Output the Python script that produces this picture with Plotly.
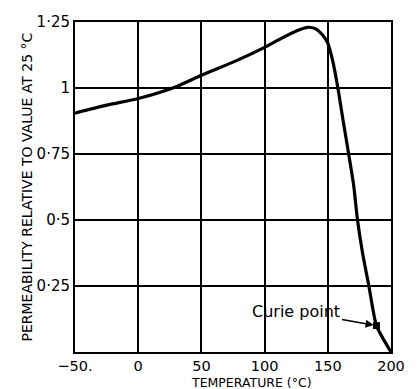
import plotly.graph_objects as go

temps = [-50, -25, 0, 30, 50, 76, 100, 114, 126, 134, 140, 146, 150, 154, 158, 162, 166.5, 170.5, 173.5, 177.5, 182.5, 188.5, 200]
perm = [0.905, 0.935, 0.96, 1.005, 1.048, 1.10, 1.154, 1.19, 1.218, 1.23, 1.225, 1.20, 1.17, 1.10, 1.0, 0.88, 0.75, 0.63, 0.5, 0.375, 0.25, 0.10, 0.0]

curie_t = [188.5]
curie_p = [0.10]

x_ticks = [-50, 0, 50, 100, 150, 200]
x_labels = ["\u221250.", "0", "50", "100", "150", "200"]
y_ticks = [0.25, 0.5, 0.75, 1, 1.25]
y_labels = ["0\u00b725", "0\u00b75", "0\u00b775", "1", "1\u00b725"]

FONT = "DejaVu Sans"

fig = go.Figure()
fig.add_trace(go.Scatter(x=temps, y=perm, mode="lines",
                         line=dict(color="black", width=3.2, shape="spline", smoothing=0.6),
                         hoverinfo="skip"))
fig.add_trace(go.Scatter(x=curie_t, y=curie_p, mode="markers",
                         marker=dict(color="black", size=7, symbol="square"),
                         hoverinfo="skip"))

fig.add_annotation(x=curie_t[0], y=curie_p[0], xref="x", yref="y",
                   text="Curie point", showarrow=True, ax=-80, ay=-14,
                   arrowhead=2, arrowsize=1, arrowwidth=1.6, arrowcolor="black",
                   standoff=3, font=dict(family=FONT, size=16, color="black"))

fig.add_annotation(x=-50 / 326, y=0.5, xref="paper", yref="paper",
                   text="PERMEABILITY RELATIVE TO VALUE AT 25 \u00b0C", textangle=-90,
                   showarrow=False, xanchor="center", yanchor="middle",
                   font=dict(family=FONT, size=14, color="black"))

fig.add_annotation(x=0.56, y=-30 / 330, xref="paper", yref="paper",
                   text="TEMPERATURE (\u00b0C)", showarrow=False,
                   xanchor="center", yanchor="middle",
                   font=dict(family=FONT, size=12.5, color="black"))

fig.update_layout(
    width=417, height=389,
    margin=dict(l=75, r=16, t=22, b=37),
    paper_bgcolor="white", plot_bgcolor="white",
    showlegend=False,
    xaxis=dict(range=[-50, 200], tickvals=x_ticks, ticktext=x_labels,
               showgrid=True, gridcolor="black", gridwidth=2,
               showline=True, linecolor="black", linewidth=2, mirror=True,
               zeroline=False, ticks="",
               tickfont=dict(family=FONT, size=14.5, color="black")),
    yaxis=dict(range=[0, 1.25], tickvals=y_ticks, ticktext=y_labels,
               showgrid=True, gridcolor="black", gridwidth=2,
               showline=True, linecolor="black", linewidth=2, mirror=True,
               zeroline=False, ticks="",
               tickfont=dict(family=FONT, size=15, color="black")),
)

fig.write_html("out.html")
